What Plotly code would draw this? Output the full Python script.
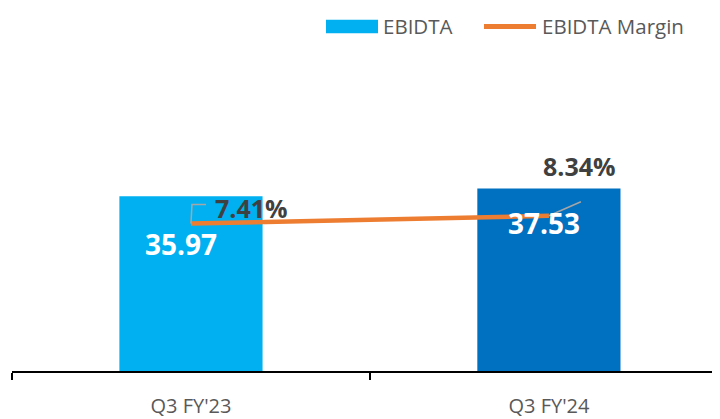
import plotly.graph_objects as go

categories = ["Q3 FY'23", "Q3 FY'24"]
ebidta = [35.97, 37.53]
margin_pct = [7.41, 8.34]
bar_colors = ["#00B0F0", "#0070C0"]
bar_labels = ["35.97", "37.53"]
pct_labels = ["7.41%", "8.34%"]

# page has an 8px body margin
OX, OY = 8, 8
W, H = 712, 411
L, R, T, B = 4, 0, 119, 42
PW, PH = W - L - R, H - T - B


def px_x(px):
    return (px - OX - L) / PW


def px_y(py):
    return (H - B + OY - py) / PH


FONT = "Open Sans"

fig = go.Figure()
fig.add_trace(go.Bar(
    x=categories, y=ebidta, name="EBIDTA",
    marker=dict(color=bar_colors, line=dict(width=0)),
    width=0.4, showlegend=False, hoverinfo="skip",
))
fig.add_trace(go.Scatter(
    x=categories, y=margin_pct, name="EBIDTA Margin", yaxis="y2",
    mode="lines", line=dict(color="#ED7D31", width=4.5),
    showlegend=False, hoverinfo="skip",
))

annotations = []
bar_shifts = [(-10, -48), (-5, -34)]
for c, v, t, (dx, dy) in zip(categories, ebidta, bar_labels, bar_shifts):
    annotations.append(dict(
        x=c, y=v, xref="x", yref="y", text=t, showarrow=False,
        xshift=dx, yshift=dy,
        font=dict(family=FONT, size=28, color="white", weight="bold"),
    ))
pct_shifts = [(61, 16), (31, 50)]
for c, v, t, (dx, dy) in zip(categories, margin_pct, pct_labels, pct_shifts):
    annotations.append(dict(
        x=c, y=v, xref="x", yref="y2", text=t, showarrow=False,
        xshift=dx, yshift=dy,
        font=dict(family=FONT, size=25, color="#404040", weight="bold"),
    ))

annotations.append(dict(
    x=px_x(381), y=px_y(24), xref="paper", yref="paper", text="EBIDTA",
    xanchor="left", yanchor="middle", showarrow=False,
    font=dict(family=FONT, size=20.5, color="#595959"),
))
annotations.append(dict(
    x=px_x(540), y=px_y(24), xref="paper", yref="paper", text="EBIDTA Margin",
    xanchor="left", yanchor="middle", showarrow=False,
    font=dict(family=FONT, size=20.5, color="#595959"),
))

shapes = [
    dict(type="path", xref="x", yref="y2", xsizemode="pixel", ysizemode="pixel",
         xanchor=categories[0], yanchor=margin_pct[0],
         path="M0,0 L1,19 L15,19", line=dict(color="#A6A6A6", width=1.5)),
    dict(type="line", xref="x", yref="y2", xsizemode="pixel", ysizemode="pixel",
         xanchor=categories[1], yanchor=margin_pct[1],
         x0=0, y0=0, x1=32, y1=14, line=dict(color="#A6A6A6", width=1.5)),
    dict(type="rect", xref="paper", yref="paper",
         x0=px_x(326), x1=px_x(378), y0=px_y(31), y1=px_y(17),
         fillcolor="#00B0F0", line=dict(width=0)),
    dict(type="line", xref="paper", yref="paper",
         x0=px_x(484), x1=px_x(536), y0=px_y(24), y1=px_y(24),
         line=dict(color="#ED7D31", width=5)),
]

fig.update_layout(
    width=W, height=H,
    margin=dict(l=L, r=R, t=T, b=B, pad=0),
    paper_bgcolor="white", plot_bgcolor="white",
    font=dict(family=FONT, color="#595959"),
    showlegend=False,
    xaxis=dict(
        type="category", range=[-0.5, 1.478],
        tickson="boundaries", ticks="outside", ticklen=7, tickwidth=1.5,
        tickcolor="#000000", showline=True, linecolor="#000000", linewidth=1.5,
        showgrid=False, zeroline=False, ticklabelstandoff=16,
        tickfont=dict(family=FONT, size=20, color="#595959"),
    ),
    yaxis=dict(range=[0, 50.2], visible=False, showgrid=False, zeroline=False),
    yaxis2=dict(range=[-10.15, 18.92], overlaying="y", visible=False,
                showgrid=False, zeroline=False),
    annotations=annotations,
    shapes=shapes,
)

fig.write_html("out.html")
